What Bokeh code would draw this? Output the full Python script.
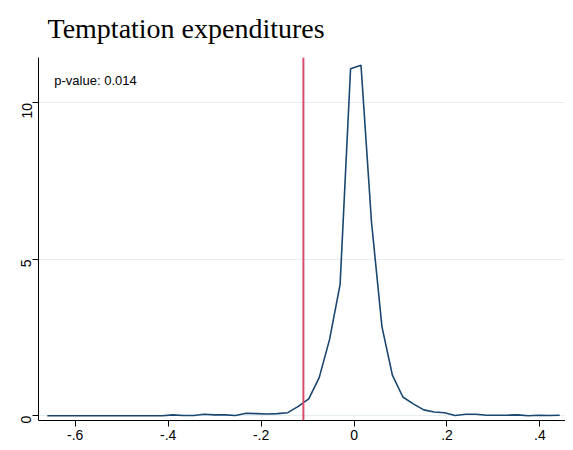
import math
from bokeh.plotting import figure
from bokeh.models import Span, Label, Range1d, FixedTicker
from bokeh.embed import file_html
from bokeh.resources import INLINE

# ---- data (kernel density) ----
grid_x = [-0.66, -0.6375, -0.615, -0.5925, -0.57, -0.5475, -0.525, -0.5025, -0.48, -0.4575,
          -0.435, -0.4125, -0.39, -0.3675, -0.345, -0.3225, -0.30, -0.2775, -0.255, -0.2325,
          -0.21, -0.1875, -0.165, -0.1425, -0.12, -0.0975, -0.075, -0.0525, -0.03, -0.0075,
          0.015, 0.0375, 0.06, 0.0825, 0.105, 0.1275, 0.15, 0.1725, 0.195, 0.2175,
          0.24, 0.2625, 0.285, 0.3075, 0.33, 0.3525, 0.375, 0.3975, 0.42, 0.4425]
density = [0.0, 0.0, 0.0, 0.0, 0.0, 0.0, 0.0, 0.0, 0.0, 0.0,
           0.0, 0.0, 0.03, 0.01, 0.01, 0.05, 0.03, 0.03, 0.01, 0.08,
           0.07, 0.06, 0.07, 0.10, 0.30, 0.54, 1.22, 2.45, 4.2, 11.09,
           11.2, 6.2, 2.85, 1.3, 0.6, 0.38, 0.19, 0.12, 0.10, 0.01,
           0.05, 0.05, 0.02, 0.02, 0.02, 0.03, 0.0, 0.02, 0.01, 0.02]
observed_effect = -0.109
p_value_text = "p-value: 0.014"
title_text = "Temptation expenditures"

x_ticks = [-0.6, -0.4, -0.2, 0, 0.2, 0.4]
x_tick_labels = ["-.6", "-.4", "-.2", "0", ".2", ".4"]
y_ticks = [0, 5, 10]
y_tick_labels = ["0", "5", "10"]

p = figure(width=565, height=442, output_backend="svg", toolbar_location=None,
           x_range=Range1d(-0.679, 0.455), y_range=Range1d(-0.15, 11.45),
           title=title_text,
           min_border_left=38, min_border_right=0, min_border_top=57, min_border_bottom=0)

p.title.text_font = "Liberation Serif"
p.title.text_font_size = "28px"
p.title.text_font_style = "normal"
p.title.text_color = "black"
p.title.vertical_align = "top"
p.title.offset = 9
p.title.standoff = 24

p.outline_line_color = None
p.background_fill_color = "white"
p.border_fill_color = "white"

p.xgrid.visible = False
p.ygrid.ticker = FixedTicker(ticks=y_ticks)
p.ygrid.grid_line_color = "#e6eef1"
p.ygrid.grid_line_width = 1

for ax in (p.xaxis[0], p.yaxis[0]):
    ax.axis_line_color = "black"
    ax.major_tick_line_color = "black"
    ax.minor_tick_line_color = None
    ax.major_tick_out = 6
    ax.major_tick_in = 0
    ax.major_label_text_font = "Liberation Sans"
    ax.major_label_text_font_size = "14px"
    ax.major_label_text_color = "black"

p.xaxis[0].ticker = FixedTicker(ticks=x_ticks)
p.xaxis[0].major_label_overrides = {t: l for t, l in zip(x_ticks, x_tick_labels)}
p.xaxis[0].major_label_standoff = 3
p.yaxis[0].ticker = FixedTicker(ticks=y_ticks)
p.yaxis[0].major_label_overrides = {t: l for t, l in zip(y_ticks, y_tick_labels)}
p.yaxis[0].major_label_orientation = math.pi / 2
p.yaxis[0].major_label_standoff = 6

p.line(grid_x, density, line_color="#1a476f", line_width=1.6)

p.add_layout(Span(location=observed_effect, dimension="height",
                  line_color="#dc4a6c", line_width=2))

p.add_layout(Label(x=-0.645, y=10.72, text=p_value_text, text_baseline="alphabetic",
                   text_font="Liberation Sans", text_font_size="13px", text_color="black"))

open("out.html", "w").write(file_html(p, INLINE))
